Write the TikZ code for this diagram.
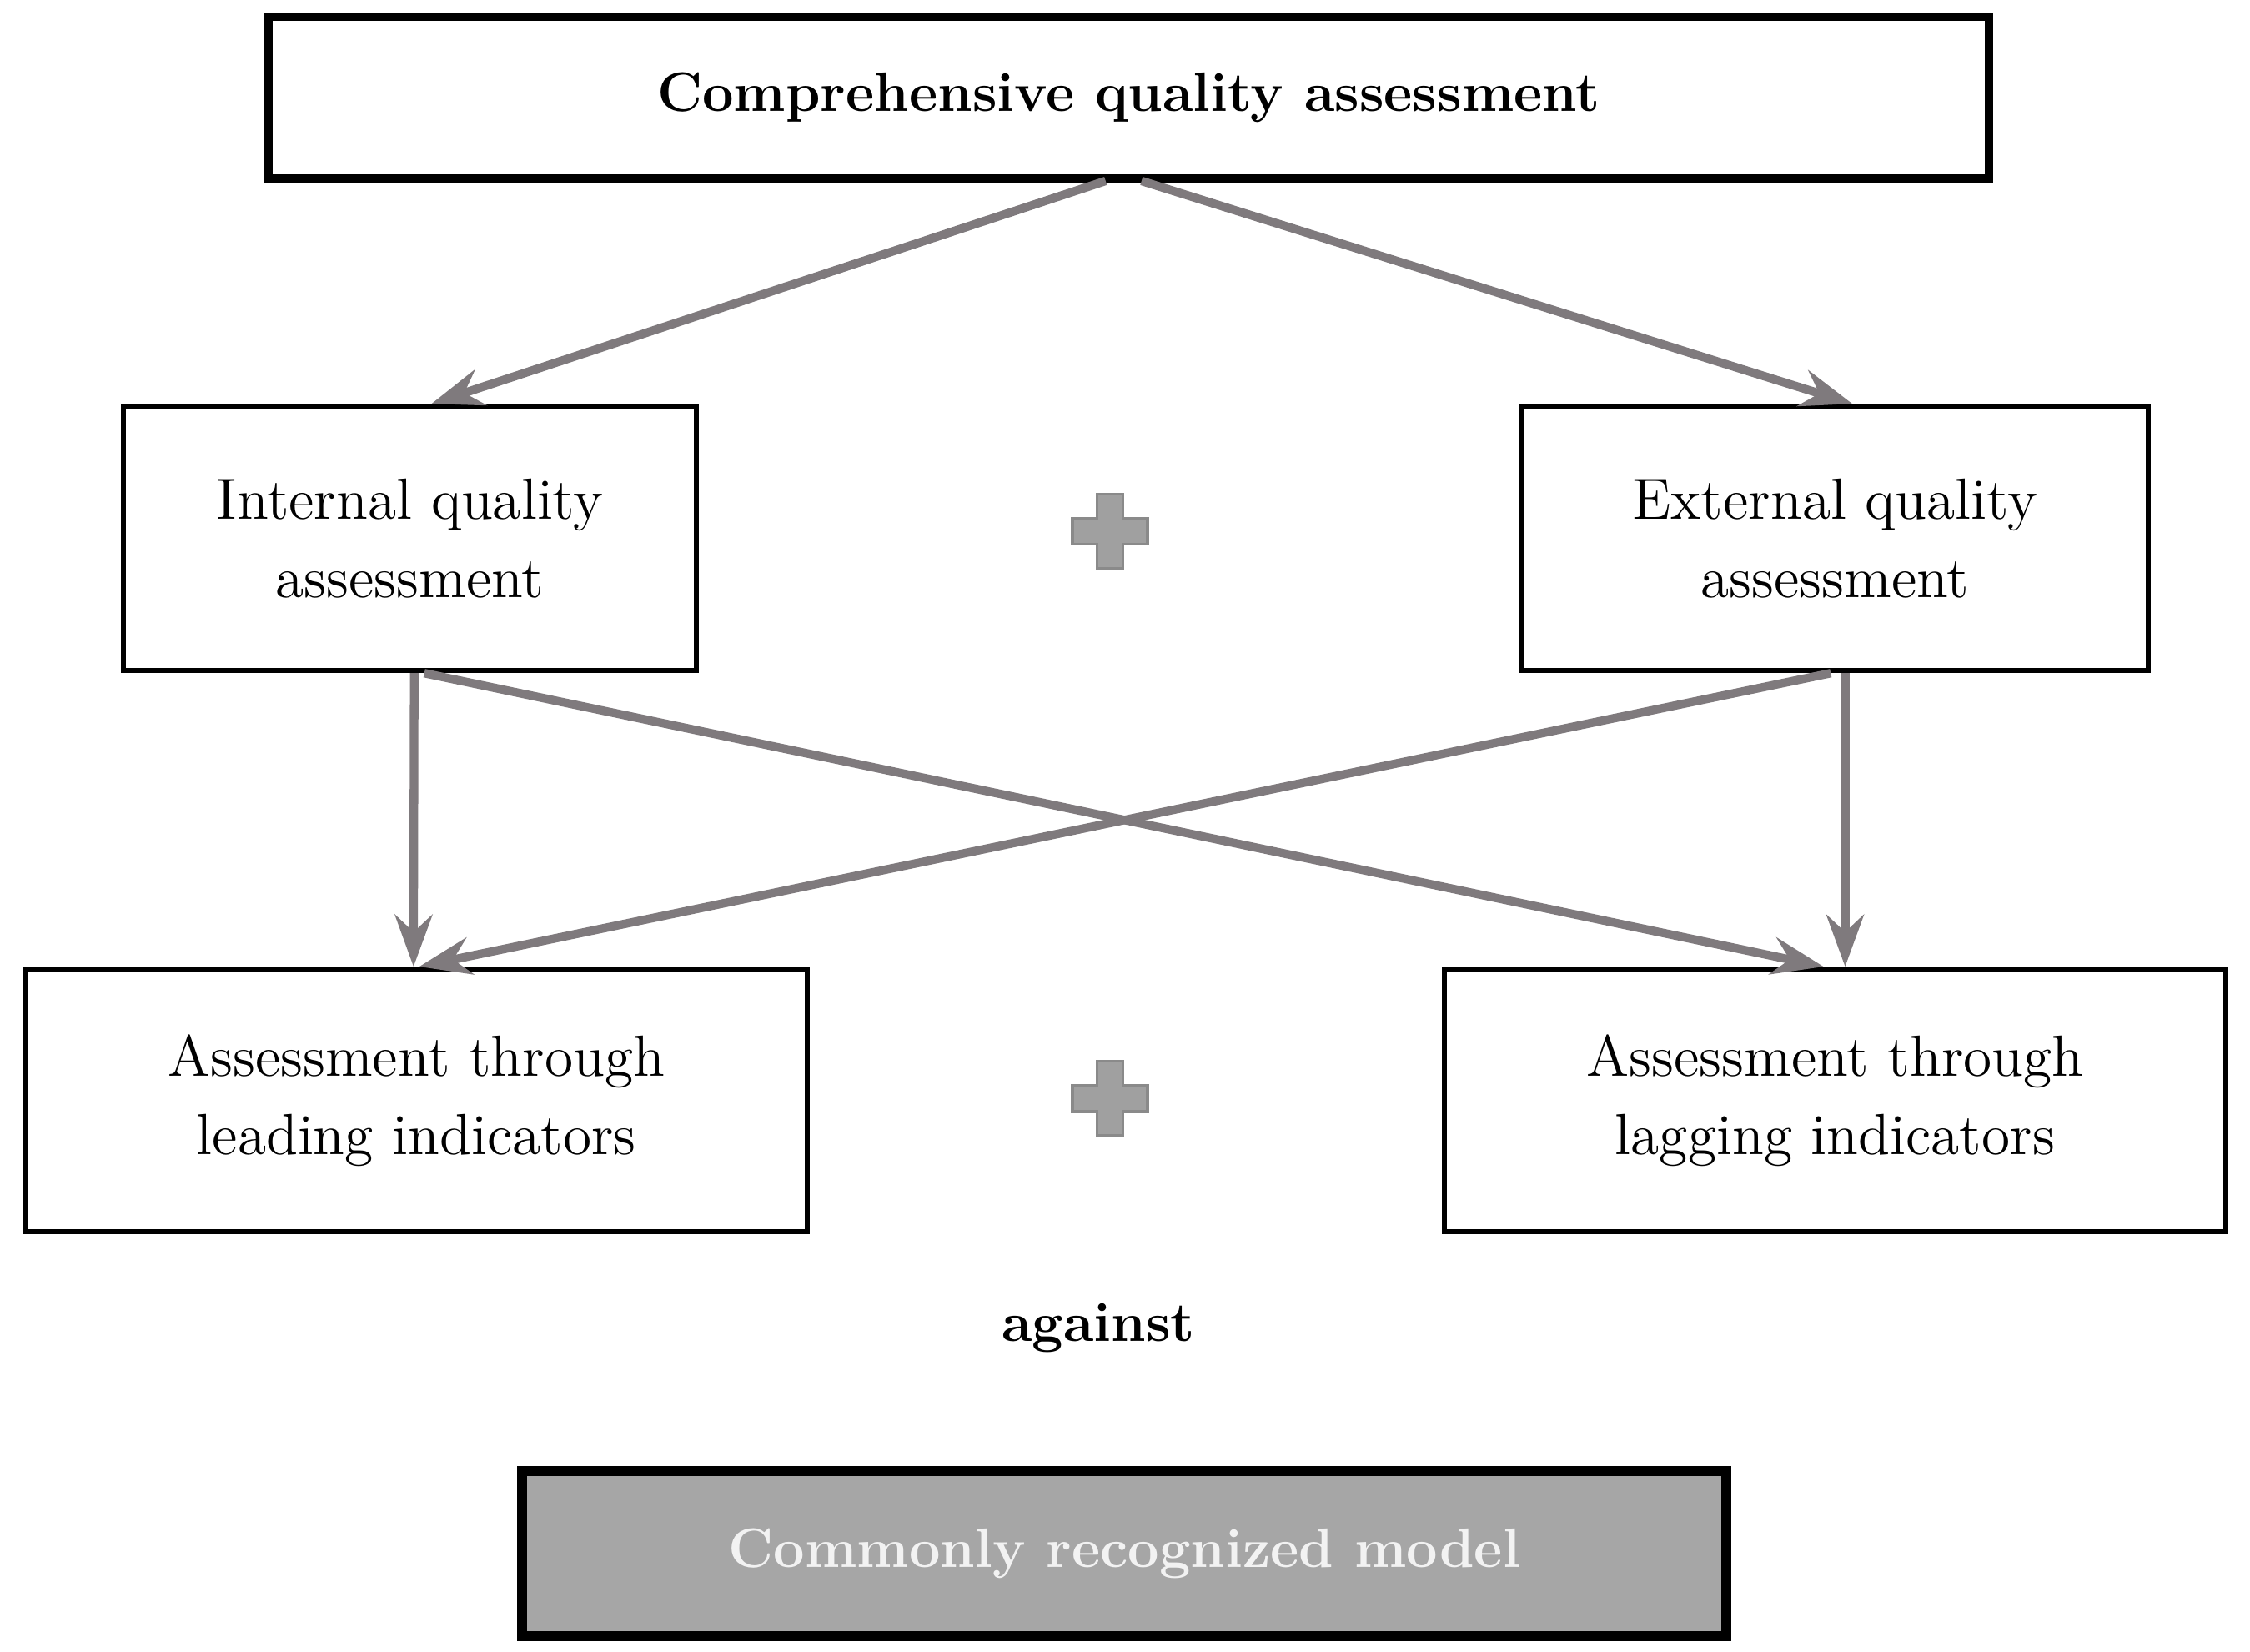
\documentclass[tikz,border=0pt]{standalone}
\usetikzlibrary{arrows.meta}
\definecolor{arr}{HTML}{7F7A7D}
\definecolor{boxgray}{HTML}{A6A6A6}
\definecolor{plusgray}{HTML}{A0A0A0}
\definecolor{plusedge}{HTML}{8A8A8A}
\begin{document}
\begin{tikzpicture}[x=0.01cm,y=-0.01cm,
  box/.style={draw=black,line width=1pt,minimum width=#1,align=center,font=\fontsize{11.5}{15.5}\selectfont,inner sep=0pt},
  conn/.style={draw=arr,line width=1.7pt,-{Stealth[length=0.36cm,width=0.26cm,inset=0.12cm]}},
  plus/.pic={\filldraw[fill=plusgray,draw=plusedge,line width=0.6pt]
     (-9,-26)--(9,-26)--(9,-9)--(26,-9)--(26,9)--(9,9)--(9,26)--(-9,26)--(-9,9)--(-26,9)--(-26,-9)--(-9,-9)--cycle;}]
\useasboundingbox (0,0) rectangle (1567,1150);
\node[draw=black,line width=1.7pt,minimum width=11.98cm,minimum height=1.13cm,font=\bfseries\fontsize{11}{13}\selectfont] (top) at (786,68) {Comprehensive quality assessment};
\node[box=3.99cm,minimum height=1.84cm] (int) at (285.5,375) {Internal quality\\assessment};
\node[box=4.36cm,minimum height=1.84cm] (ext) at (1278,375) {External quality\\assessment};
\node[box=5.44cm,minimum height=1.83cm] (lead) at (290,766.5) {Assessment through\\leading indicators};
\node[box=5.44cm,minimum height=1.83cm] (lag) at (1278,766.5) {Assessment through\\lagging indicators};
\node[font=\bfseries\fontsize{11}{13}\selectfont] (ag) at (765,925) {against};
\node[draw=black,line width=2pt,fill=boxgray,text=white!95!black,minimum width=8.38cm,minimum height=1.15cm,font=\bfseries\fontsize{11}{13}\selectfont] (model) at (783,1082) {Commonly recognized model};
\pic (p1) at (773,370) {plus};
\pic (p2) at (773,765) {plus};
\coordinate (t1) at (770,126);
\coordinate (t2) at (795,126);
\draw[conn] (t1) -- ([xshift=0.15cm]int.north);
\draw[conn] (t2) -- ([xshift=0.12cm]ext.north);
\draw[conn] ([xshift=0.03cm]int.south) -- ([xshift=-0.02cm]lead.north);
\draw[conn] ([xshift=0.1cm]int.south) -- ([xshift=-0.08cm]lag.north);
\draw[conn] ([xshift=-0.03cm]ext.south) -- ([xshift=0.02cm]lead.north);
\draw[conn] ([xshift=0.07cm]ext.south) -- ([xshift=0.07cm]lag.north);
\end{tikzpicture}
\end{document}
